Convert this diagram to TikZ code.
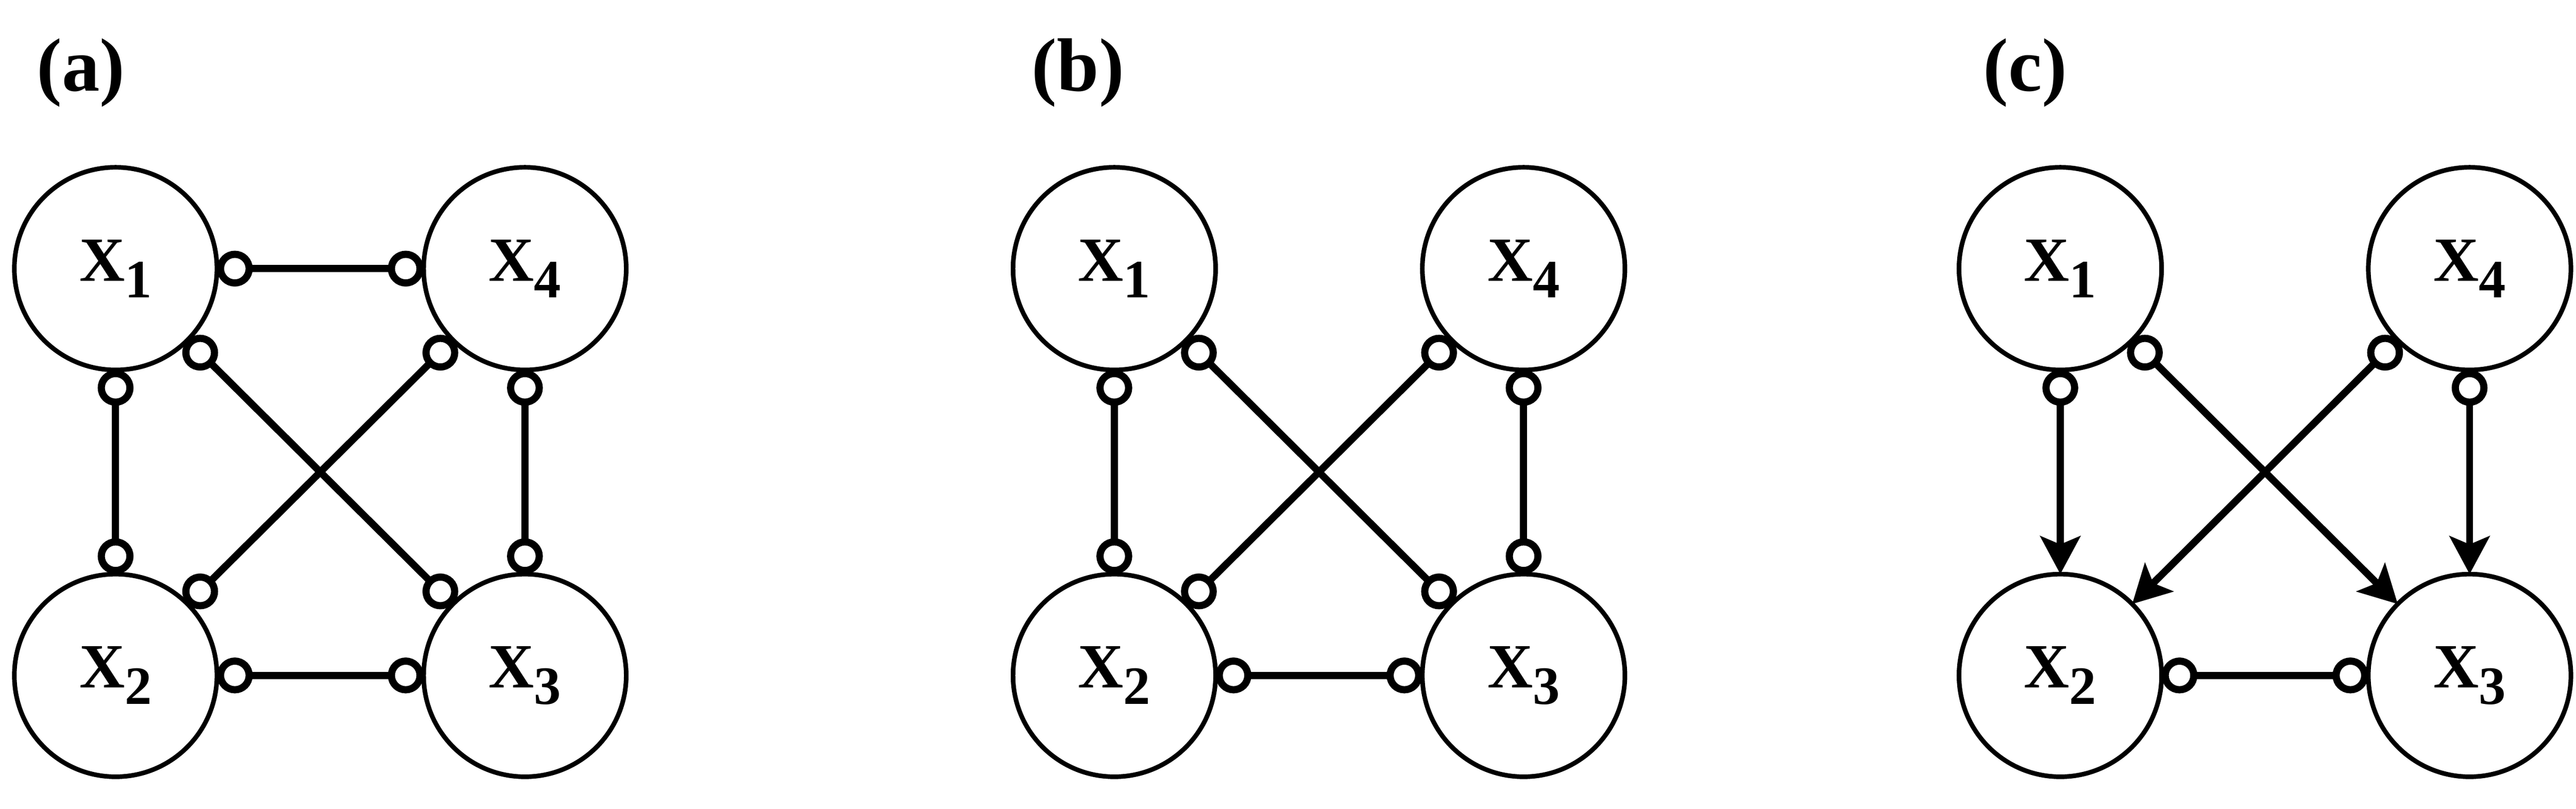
\documentclass[tikz,border=0pt]{standalone}
\usepackage{fontspec}
\setmainfont{Liberation Serif}
\usetikzlibrary{arrows.meta}

\newcommand{\xsub}[1]{X\raisebox{-0.32cm}{\fontsize{30}{30}\selectfont #1}}

\tikzset{
  varnode/.style={circle, draw, line width=0.09cm, minimum size=3.96cm, inner sep=0pt, outer sep=0pt, font=\fontsize{35}{40}\selectfont\bfseries},
  panel/.style={anchor=base, font=\fontsize{42}{48}\selectfont\bfseries},
  link/.style={line width=0.14cm},
  oo/.style={link, {Circle[open, length=0.7cm, width=0.7cm]}-{Circle[open, length=0.7cm, width=0.7cm]}},
  oa/.style={link, {Circle[open, length=0.7cm, width=0.7cm]}-{Stealth[length=0.74cm, width=0.78cm, inset=0.16cm]}}
}

\begin{document}
\begin{tikzpicture}
\useasboundingbox (0,0) rectangle (50.35,15.8);

\node[panel] (labA) at (1.58,14.02) {(a)};
\node[varnode] (a1) at (2.26,10.55) {\xsub{1}};
\node[varnode] (a4) at (10.26,10.55) {\xsub{4}};
\node[varnode] (a2) at (2.26,2.6) {\xsub{2}};
\node[varnode] (a3) at (10.26,2.6) {\xsub{3}};
\draw[oo] (a1) -- (a4);
\draw[oo] (a1) -- (a2);
\draw[oo] (a4) -- (a3);
\draw[oo] (a1) -- (a3);
\draw[oo] (a4) -- (a2);
\draw[oo] (a2) -- (a3);

\node[panel] (labB) at (21.07,14.02) {(b)};
\node[varnode] (b1) at (21.78,10.55) {\xsub{1}};
\node[varnode] (b4) at (29.78,10.55) {\xsub{4}};
\node[varnode] (b2) at (21.78,2.6) {\xsub{2}};
\node[varnode] (b3) at (29.78,2.6) {\xsub{3}};
\draw[oo] (b1) -- (b2);
\draw[oo] (b4) -- (b3);
\draw[oo] (b1) -- (b3);
\draw[oo] (b4) -- (b2);
\draw[oo] (b2) -- (b3);

\node[panel] (labC) at (39.58,14.02) {(c)};
\node[varnode] (c1) at (40.27,10.55) {\xsub{1}};
\node[varnode] (c4) at (48.27,10.55) {\xsub{4}};
\node[varnode] (c2) at (40.27,2.6) {\xsub{2}};
\node[varnode] (c3) at (48.27,2.6) {\xsub{3}};
\draw[oa] (c1) -- (c2);
\draw[oa] (c4) -- (c3);
\draw[oa] (c1) -- (c3);
\draw[oa] (c4) -- (c2);
\draw[oo] (c2) -- (c3);

\end{tikzpicture}
\end{document}
